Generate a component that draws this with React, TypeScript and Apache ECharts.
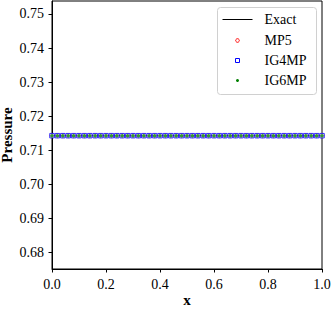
import React, { useEffect, useRef } from "react";
import * as echarts from "echarts";

const xValues = [
  0.0, 0.02, 0.04, 0.06, 0.08, 0.1, 0.12, 0.14, 0.16, 0.18,
  0.2, 0.22, 0.24, 0.26, 0.28, 0.3, 0.32, 0.34, 0.36, 0.38,
  0.4, 0.42, 0.44, 0.46, 0.48, 0.5, 0.52, 0.54, 0.56, 0.58,
  0.6, 0.62, 0.64, 0.66, 0.68, 0.7, 0.72, 0.74, 0.76, 0.78,
  0.8, 0.82, 0.84, 0.86, 0.88, 0.9, 0.92, 0.94, 0.96, 0.98, 1.0,
];
const exactP = [
  0.7143, 0.7143, 0.7143, 0.7143, 0.7143, 0.7143, 0.7143, 0.7143, 0.7143, 0.7143,
  0.7143, 0.7143, 0.7143, 0.7143, 0.7143, 0.7143, 0.7143, 0.7143, 0.7143, 0.7143,
  0.7143, 0.7143, 0.7143, 0.7143, 0.7143, 0.7143, 0.7143, 0.7143, 0.7143, 0.7143,
  0.7143, 0.7143, 0.7143, 0.7143, 0.7143, 0.7143, 0.7143, 0.7143, 0.7143, 0.7143,
  0.7143, 0.7143, 0.7143, 0.7143, 0.7143, 0.7143, 0.7143, 0.7143, 0.7143, 0.7143, 0.7143,
];
const mp5P = exactP.slice();
const ig4mpP = exactP.slice();
const ig6mpP = exactP.slice();
const yTicks = [0.68, 0.69, 0.7, 0.71, 0.72, 0.73, 0.74, 0.75];
const xTicks = [0.0, 0.2, 0.4, 0.6, 0.8, 1.0];
const legendNames = ["Exact", "MP5", "IG4MP", "IG6MP"];

const FONT = "'Liberation Serif', 'DejaVu Serif', serif";

function pairs(xs: number[], ys: number[]) {
  return xs.map((x, i) => [x, ys[i]]);
}

export default function App() {
  const ref = useRef<HTMLDivElement>(null);
  useEffect(() => {
    if (!ref.current) return;
    const chart = echarts.init(ref.current, null, { renderer: "svg" });
    const lx = 217, ly = 7;
    chart.setOption({
      animation: false,
      grid: {
        left: 52, right: 10, top: 1, bottom: 40,
        outerBoundsMode: "none", containLabel: false,
        show: true, borderColor: "#000", borderWidth: 1, backgroundColor: "transparent",
      },
      xAxis: {
        type: "value", min: 0, max: 1,
        name: "x", nameLocation: "middle", nameGap: 23, nameMoveOverlap: false,
        nameTextStyle: { fontFamily: FONT, fontSize: 15, fontWeight: "bold", color: "#000" },
        axisLine: { lineStyle: { color: "#000", width: 1 } },
        axisTick: { show: true, inside: false, length: 3.5, customValues: xTicks, lineStyle: { color: "#000" } },
        axisLabel: {
          customValues: xTicks, margin: 8,
          fontFamily: FONT, fontSize: 14, color: "#000",
          formatter: (v: number) => v.toFixed(1),
        },
        splitLine: { show: false },
      },
      yAxis: {
        type: "value", min: 0.6752, max: 0.7538,
        name: "Pressure", nameLocation: "middle", nameGap: 38, nameRotate: 90, nameMoveOverlap: false,
        nameTextStyle: { fontFamily: FONT, fontSize: 15, fontWeight: "bold", color: "#000" },
        axisLine: { show: true, lineStyle: { color: "#000", width: 1 } },
        axisTick: { show: true, inside: false, length: 3.5, customValues: yTicks, lineStyle: { color: "#000" } },
        axisLabel: {
          customValues: yTicks, margin: 8,
          fontFamily: FONT, fontSize: 14, color: "#000",
          formatter: (v: number) => v.toFixed(2),
        },
        splitLine: { show: false },
      },
      series: [
        {
          name: legendNames[0], type: "line", data: pairs(xValues, exactP),
          showSymbol: false, lineStyle: { color: "#000", width: 1 }, z: 1,
        },
        {
          name: legendNames[1], type: "scatter", data: pairs(xValues, mp5P),
          symbol: "circle", symbolSize: 4,
          itemStyle: { color: "#fff", borderColor: "#ff0000", borderWidth: 1 }, z: 2,
        },
        {
          name: legendNames[2], type: "scatter", data: pairs(xValues, ig4mpP),
          symbol: "rect", symbolSize: 4.5,
          itemStyle: { color: "#fff", borderColor: "#0000ff", borderWidth: 1 }, z: 3,
        },
        {
          name: legendNames[3], type: "scatter", data: pairs(xValues, ig6mpP),
          symbol: "circle", symbolSize: 3.5,
          itemStyle: { color: "#008000" }, z: 4,
        },
      ],
      graphic: [
        {
          type: "group", left: lx, top: ly, z: 100,
          children: [
            { type: "rect", shape: { x: 0, y: 0, width: 99, height: 87, r: 3 },
              style: { fill: "#fff", stroke: "#d0d0d0", lineWidth: 1 } },
            { type: "line", shape: { x1: 5, y1: 12, x2: 35, y2: 12 },
              style: { stroke: "#000", lineWidth: 1 } },
            { type: "circle", shape: { cx: 20, cy: 33, r: 1.8 },
              style: { fill: "#fff", stroke: "#ff0000", lineWidth: 1 } },
            { type: "rect", shape: { x: 18, y: 51, width: 4, height: 4 },
              style: { fill: "#fff", stroke: "#0000ff", lineWidth: 1 } },
            { type: "circle", shape: { cx: 20, cy: 73, r: 1.5 },
              style: { fill: "#008000" } },
            ...legendNames.map((n, i) => ({
              type: "text", x: 47, y: [12, 33, 53, 73][i],
              style: { text: n, fontFamily: FONT, fontSize: 14, fill: "#000", verticalAlign: "middle", align: "left" },
            })),
          ],
        },
      ],
    });
    return () => chart.dispose();
  }, []);
  return <div ref={ref} style={{ width: 332, height: 309, position: "absolute", left: 0, top: 0 }} />;
}
